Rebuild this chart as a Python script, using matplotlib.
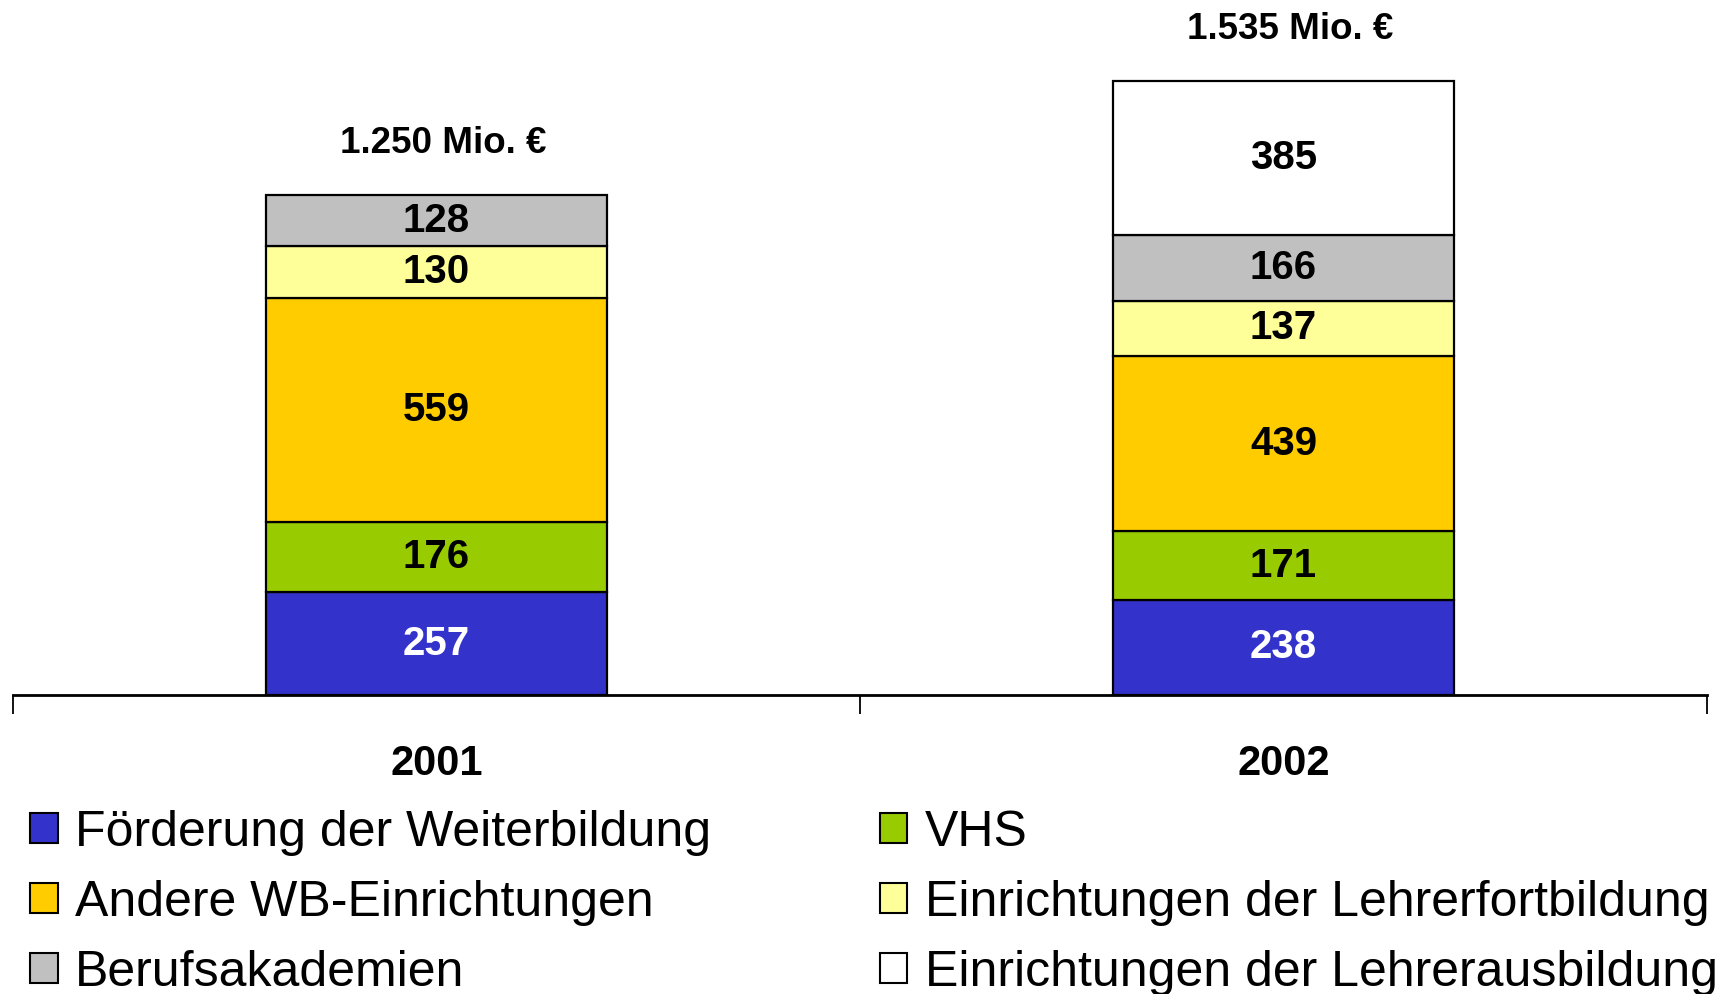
import numpy as np
import matplotlib.pyplot as plt
from matplotlib.patches import Patch

plt.rcParams['font.family'] = ['Liberation Sans', 'DejaVu Sans']

years = ['2001', '2002']
series = ['Förderung der Weiterbildung', 'VHS', 'Andere WB-Einrichtungen',
          'Einrichtungen der Lehrerfortbildung', 'Berufsakademien',
          'Einrichtungen der Lehrerausbildung']
values = [
    [257, 238],
    [176, 171],
    [559, 439],
    [130, 137],
    [128, 166],
    [0, 385],
]
totals = ['1.250 Mio. €', '1.535 Mio. €']
colors = ['#3333CC', '#99CC00', '#FFCC00', '#FFFF99', '#C0C0C0', '#FFFFFF']
text_colors = ['white', 'black', 'black', 'black', 'black', 'black']

fig = plt.figure(figsize=(17.16, 9.94), dpi=100)
ax = fig.add_axes([13 / 1716, 1 - 695 / 994, (1707 - 13) / 1716, 695 / 994])

x = np.arange(len(years))
bottom = np.zeros(len(years))
for vals, c, tc in zip(values, colors, text_colors):
    vals = np.array(vals, dtype=float)
    mask = vals > 0
    ax.bar(x[mask], vals[mask], 0.403, bottom=bottom[mask], color=c,
           edgecolor='black', linewidth=1.6, zorder=2)
    for xi, v, b in zip(x[mask], vals[mask], bottom[mask]):
        ax.text(xi, b + v / 2, '%d' % v, ha='center', va='center',
                fontsize=29, fontweight='bold', color=tc, zorder=3)
    bottom += vals

for xi, top, lbl in zip(x, bottom, totals):
    ax.annotate(lbl, (xi + 0.008, top), xytext=(0, 37), textcoords='offset points',
                ha='center', va='center', fontsize=26.5, fontweight='bold')

ax.set_xlim(-0.5, 1.5)
ax.set_ylim(0, 1737.5)
for s in ['left', 'right', 'top']:
    ax.spines[s].set_visible(False)
ax.spines['bottom'].set_linewidth(2)
ax.set_yticks([])
ax.set_xticks(x)
ax.set_xticklabels(years, fontsize=30, fontweight='bold')
ax.tick_params(axis='x', which='major', length=0, pad=35)
ax.set_xticks([-0.5, 0.5, 1.5], minor=True)
ax.tick_params(axis='x', which='minor', length=14, width=1.3, direction='out')

handles = [Patch(facecolor=c, edgecolor='black', linewidth=1.5) for c in colors]
left_idx = [0, 2, 4]
right_idx = [1, 3, 5]
for idx, xpos in [(left_idx, 30 / 1716), (right_idx, 880 / 1716)]:
    fig.legend([handles[i] for i in idx], [series[i] for i in idx],
               loc='upper left', bbox_to_anchor=(xpos, 1 - 810 / 994),
               frameon=False, fontsize=36, handlelength=0.55, handleheight=0.55,
               handletextpad=0.35, labelspacing=0.48, borderpad=0, borderaxespad=0)

fig.savefig('out.png', dpi=100)
